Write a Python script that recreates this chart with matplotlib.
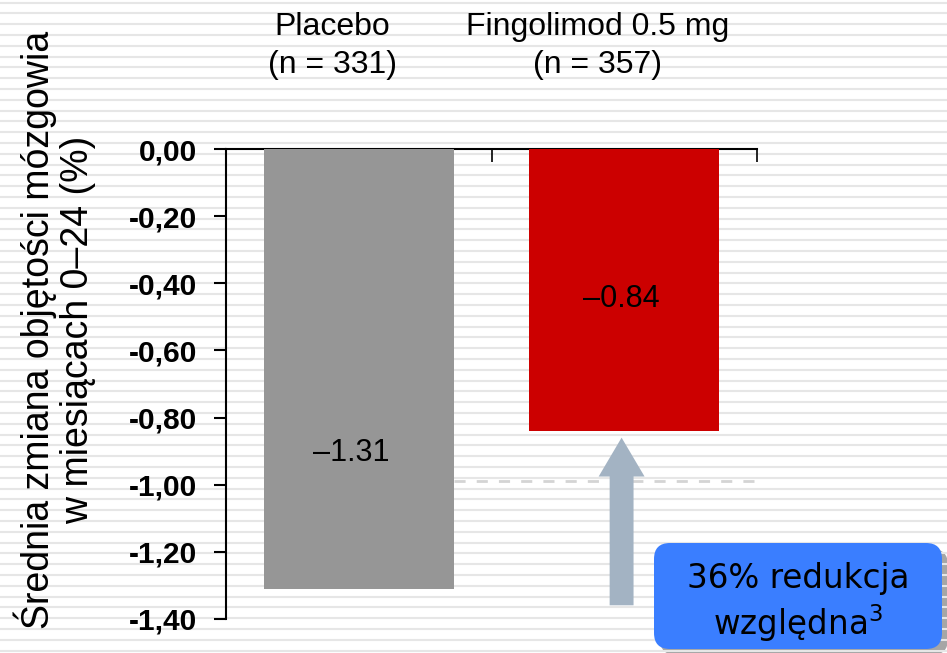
import matplotlib
matplotlib.use('Agg')
import matplotlib.pyplot as plt
import numpy as np
from matplotlib.patches import FancyArrow, FancyBboxPatch

# chart data
groups = ['Placebo', 'Fingolimod 0.5 mg']
group_n = ['(n = 331)', '(n = 357)']
changes = [-1.31, -0.84]
value_labels = ['\u20131.31', '\u20130.84']
bar_colors = ['#969696', '#cc0000']
yticks = [0.0, -0.2, -0.4, -0.6, -0.8, -1.0, -1.2, -1.4]
ytick_labels = ['0,00', '-0,20', '-0,40', '-0,60', '-0,80', '-1,00', '-1,20', '-1,40']
ref_level = -0.99
ylabel = 'Średnia zmiana objętości mózgowia\nw miesiącach 0\u201324 (%)'
box_text = '36% redukcja\nwzgl\u0119dna$^3$'

plt.rcParams['font.family'] = ['Liberation Sans', 'DejaVu Sans']

W, H = 947, 653
fig = plt.figure(figsize=(W / 100, H / 100), dpi=100)
fig.patch.set_facecolor('white')

# striped background, drawn in pixel units
bg = fig.add_axes([0, 0, 1, 1], zorder=0)
bg.set_xlim(0, W)
bg.set_ylim(H, 0)
bg.set_axis_off()
for y in np.arange(2.5, H, 10.8):
    bg.axhline(y, color='#e6e6e6', lw=1.5)

ax = fig.add_axes([226 / W, 1 - 618.7 / H, (757 - 226) / W, (618.7 - 149.3) / H], zorder=1)
ax.patch.set_alpha(0)
x = np.arange(len(groups))
ax.bar(x, changes, width=0.716, color=bar_colors, zorder=3)
ax.set_xlim(-0.5, 1.5)
ax.set_ylim(-1.4, 0)

for s in ['right', 'bottom']:
    ax.spines[s].set_visible(False)
ax.spines['left'].set_linewidth(1.5)
ax.spines['top'].set_linewidth(1.5)

ax.set_yticks(yticks)
ax.set_yticklabels(ytick_labels, fontsize=21.5, fontweight='bold')
ax.tick_params(axis='y', length=9, width=1.5, pad=12)
ax.xaxis.set_ticks_position('top')
ax.set_xticks([-0.5, 0.5, 1.5])
ax.set_xticklabels([])
ax.tick_params(axis='x', direction='in', length=9, width=1.2)

for i in range(len(groups)):
    ax.text(i - 0.1, 1.2435, groups[i], transform=ax.get_xaxis_transform(),
            ha='center', va='baseline', fontsize=23)
    ax.text(i - 0.1, 1.1626, group_n[i], transform=ax.get_xaxis_transform(),
            ha='center', va='baseline', fontsize=23)

ax.text(-0.03, -0.905, value_labels[0], ha='center', va='center', fontsize=22, zorder=4)
ax.text(0.99, -0.445, value_labels[1], ha='center', va='center', fontsize=22, zorder=4)

# dashed reference line from placebo bar edge
ax.plot([0.358, 1.52], [ref_level, ref_level], ls=(0, (4, 4)), color='#d4d4d4',
        lw=2, clip_on=False, zorder=2)

# arrow showing the reduction
ax.add_patch(FancyArrow(0.99, -1.36, 0, 0.5, width=0.09, head_width=0.173,
                        head_length=0.116, length_includes_head=True,
                        color='#a3b3c3', lw=0, zorder=3))

fig.text(55 / W, 1 - 330 / H, ylabel, rotation=90, ha='center', va='center',
         fontsize=27, linespacing=1.1, multialignment='center')

# reduction callout box (pixel coordinates)
bg.add_patch(FancyBboxPatch((660, 549), 288, 106, boxstyle='round,pad=0,rounding_size=16',
                            fc='#a6a6a6', ec='none', zorder=1, clip_on=False))
bg.add_patch(FancyBboxPatch((654, 543), 288, 106, boxstyle='round,pad=0,rounding_size=16',
                            fc='#3a7eff', ec='none', zorder=2, clip_on=False))
fig.text(798 / W, 1 - 603 / H, box_text, ha='center', va='center', fontsize=23.5,
         family=['DejaVu Sans'], linespacing=1.2, zorder=5)

fig.savefig('out.png', dpi=100)
